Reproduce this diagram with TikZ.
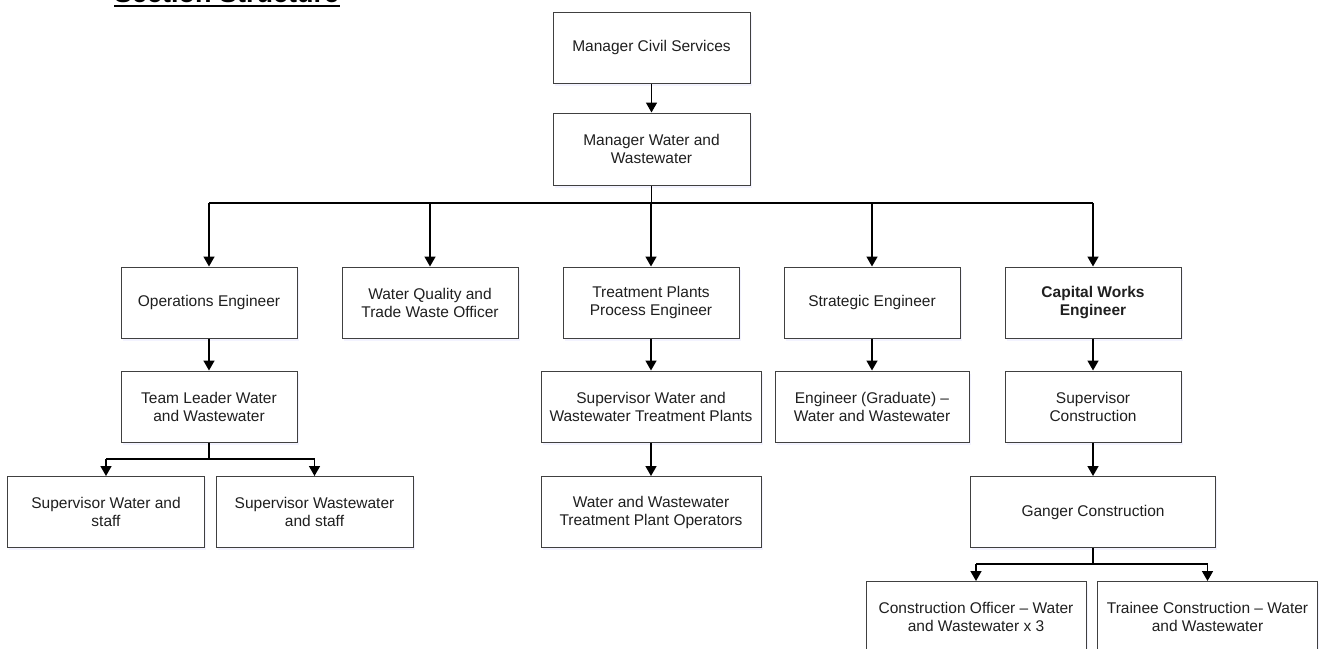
\documentclass[tikz,border=0pt]{standalone}
\usepackage{fontspec}
\setmainfont{Liberation Sans}
\usetikzlibrary{arrows.meta,shadows}
\tikzset{
  box/.style={draw=black!75, line width=1pt, fill=white, minimum height=71pt,
    align=center, font=\fontsize{15.5}{18}\selectfont, text=black!88,
    inner sep=2pt, drop shadow={opacity=0.12, shadow xshift=1.5pt, shadow yshift=-2.5pt, fill=blue!40}},
  arr/.style={line width=1.6pt, -{Triangle[length=10pt,width=11pt]}},
  ln/.style={line width=1.6pt}
}
\begin{document}
\begin{tikzpicture}[x=1pt,y=-1pt]
\useasboundingbox (0,0) rectangle (1319,648);
% title (cut at top edge)
\node[anchor=base west, inner sep=0pt, font=\fontsize{27}{30}\bfseries\selectfont] (title) at (114,2) {Section Structure};
\draw[line width=2.5pt] (title.base west) ++(0,4) -- ++(226,0);
% boxes
\node[box, minimum width=197pt] (mcs) at (651.5,47.5) {Manager Civil Services};
\node[box, minimum width=197pt, minimum height=72pt] (mww) at (651.5,149) {Manager Water and\\Wastewater};
\node[box, minimum width=176pt] (ops) at (209,302.5) {Operations Engineer};
\node[box, minimum width=176pt] (wq) at (430,302.5) {Water Quality and\\Trade Waste Officer};
\node[box, minimum width=176pt] (tp) at (651,302.5) {Treatment Plants\\Process Engineer};
\node[box, minimum width=176pt] (se) at (872,302.5) {Strategic Engineer};
\node[box, minimum width=176pt] (cw) at (1093,302.5) {\bfseries Capital Works\\\bfseries Engineer};
\node[box, minimum width=176pt] (tl) at (209,406.5) {Team Leader Water\\and Wastewater};
\node[box, minimum width=220pt] (sww) at (651,406.5) {Supervisor Water and\\Wastewater Treatment Plants};
\node[box, minimum width=194pt] (eng) at (872,406.5) {Engineer (Graduate) –\\Water and Wastewater};
\node[box, minimum width=176pt] (sc) at (1093,406.5) {Supervisor\\Construction};
\node[box, minimum width=197pt] (svw) at (106,512) {Supervisor Water and\\staff};
\node[box, minimum width=197pt] (svww) at (314.5,512) {Supervisor Wastewater\\and staff};
\node[box, minimum width=220pt] (opr) at (651,512) {Water and Wastewater\\Treatment Plant Operators};
\node[box, minimum width=245pt] (gc) at (1093,512) {Ganger Construction};
\node[box, minimum width=220pt] (co) at (976,617) {Construction Officer – Water\\and Wastewater x 3};
\node[box, minimum width=220pt] (tr) at (1207.5,617) {Trainee Construction – Water\\and Wastewater};
% bus coordinates
\coordinate (bus1) at (0,203);
\coordinate (bus2) at (0,459);
\coordinate (bus3) at (0,564);
% connectors
\draw[arr] (mcs.south) -- (mww.north);
\draw[ln] (mww.south) -- (mww.south |- bus1);
\draw[ln] (ops.north |- bus1) -- (cw.north |- bus1);
\foreach \n in {ops,wq,tp,se,cw} {
  \draw[arr] (\n.north |- bus1) -- (\n.north);
}
\draw[arr] (ops.south) -- (tl.north);
\draw[arr] (tp.south) -- (sww.north);
\draw[arr] (se.south) -- (eng.north);
\draw[arr] (cw.south) -- (sc.north);
\draw[arr] (sww.south) -- (opr.north);
\draw[arr] (sc.south) -- (gc.north);
\draw[ln] (tl.south) -- (tl.south |- bus2);
\draw[ln] (svw.north |- bus2) -- (svww.north |- bus2);
\draw[arr] (svw.north |- bus2) -- (svw.north);
\draw[arr] (svww.north |- bus2) -- (svww.north);
\draw[ln] (gc.south) -- (gc.south |- bus3);
\draw[ln] (co.north |- bus3) -- (tr.north |- bus3);
\draw[arr] (co.north |- bus3) -- (co.north);
\draw[arr] (tr.north |- bus3) -- (tr.north);
\end{tikzpicture}
\end{document}
